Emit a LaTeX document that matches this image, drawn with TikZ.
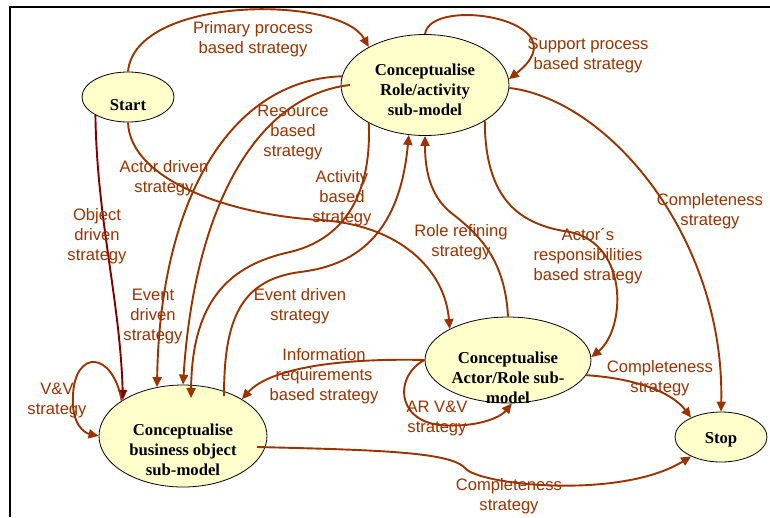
\documentclass[tikz,border=0pt]{standalone}
\usepackage{fontspec}
\setmainfont{Liberation Serif}
\newfontfamily\lblfont{Liberation Sans}
\usetikzlibrary{shapes.geometric,arrows.meta,calc}
\definecolor{edgec}{HTML}{993300}
\definecolor{objc}{HTML}{800000}
\definecolor{fillc}{HTML}{FFFFCC}
\tikzset{
  state/.style={ellipse, draw=black, line width=0.8pt, fill=fillc, inner sep=0pt},
  statetxt/.style={font=\fontsize{16.7}{20}\selectfont\bfseries, align=center, inner sep=0pt, yshift=-2.5pt},
  lbl/.style={font=\lblfont\fontsize{16.6}{20}\selectfont, text=edgec, align=center, inner sep=0pt, yshift=-2pt},
  conn/.style={draw=edgec, line width=1.9pt, -{Triangle[length=10pt,width=9pt]}},
  objconn/.style={draw=objc, line width=1.9pt, -{Triangle[length=10pt,width=9pt]}},
  frameline/.style={draw=black, line width=2.2pt}
}
\begin{document}
\begin{tikzpicture}[x=1pt,y=-1pt]
\useasboundingbox (0,0) rectangle (770,517);
\fill[white] (0,0) rectangle (770,517);
\draw[frameline] (10,517) -- (10,7) -- (770,7);

% states
\node[state, minimum width=92pt, minimum height=50pt] (start) at (128,97) {};
\node[state, minimum width=168pt, minimum height=101pt] (role) at (425,85) {};
\node[state, minimum width=168pt, minimum height=102pt] (bo) at (183,436) {};
\node[state, minimum width=166pt, minimum height=86pt] (ar) at (508,360) {};
\node[state, minimum width=92pt, minimum height=50pt] (stop) at (721,437) {};

% connectors
\draw[conn] (start.90) .. controls (135,-5) and (340,-5) .. (role.146);
\draw[conn] (role.90) .. controls (430,-5) and (585,20) .. (role.4);
\draw[conn] (role.-2) .. controls (610,100) and (725,240) .. (stop.90);
\draw[conn] (role.-31) .. controls (485,200) and (520,225) .. (570,232) .. controls (630,245) and (625,330) .. (ar.2);
\draw[conn] (ar.90) .. controls (505,260) and (480,235) .. (450,212) .. controls (430,195) and (425,170) .. (role.270);
\draw[conn] ($(bo)+(41,-40)$) .. controls (224,320) and (240,280) .. (300,272) .. controls (360,265) and (400,230) .. (role.252);
\draw[conn] (role.214) .. controls (372,200) and (340,240) .. (290,252) .. controls (230,265) and (192,300) .. ($(bo)+(8,-38)$);
\draw[conn] ($(role)+(-75,0)$) .. controls (260,95) and (195,200) .. (bo.90);
\draw[conn] (role.174) .. controls (230,80) and (160,200) .. (bo.118);
\draw[conn] (start.270) .. controls (130,180) and (230,215) .. (320,220) .. controls (400,225) and (445,270) .. (ar.152);
\draw[objconn] (start.209) .. controls (97,220) and (120,300) .. (bo.149);
\draw[conn] (bo.150) .. controls (112,350) and (75,350) .. (73,395) .. controls (71,425) and (85,433) .. (bo.180);
\draw[conn] (ar.180) .. controls (340,358) and (270,368) .. (bo.32);
\draw[conn] (ar.180) .. controls (395,375) and (395,420) .. (440,425) .. controls (475,428) and (500,418) .. (ar.275);
\draw[conn] (ar.-11) .. controls (630,378) and (670,390) .. (stop.147);
\draw[conn] ($(bo)+(74,11)$) .. controls (380,450) and (450,452) .. (465,468) .. controls (478,485) and (620,500) .. (stop.213);

% state texts
\node[statetxt] (starttxt) at (128,103) {Start};
\node[statetxt] (roletxt) at (425,87) {Conceptualise\\Role/activity\\sub-model};
\node[statetxt] (botxt) at (183,447) {Conceptualise\\business object\\sub-model};
\node[statetxt] (artxt) at (508,375) {Conceptualise\\Actor/Role sub-\\model};
\node[statetxt] (stoptxt) at (721,437) {Stop};

% labels
\node[lbl] (l1) at (253,37) {Primary process\\based strategy};
\node[lbl] (l2) at (588,53) {Support process\\based strategy};
\node[lbl] (l3) at (710,209) {Completeness\\strategy};
\node[lbl] (l4) at (588,254) {Actor´s\\responsibilities\\based strategy};
\node[lbl] (l5) at (461,240) {Role refining\\strategy};
\node[lbl] (l6) at (300,304) {Event driven\\strategy};
\node[lbl] (l7) at (342,196) {Activity\\based\\strategy};
\node[lbl] (l8) at (293,131) {Resource\\based\\strategy};
\node[lbl] (l9) at (153,315) {Event\\driven\\strategy};
\node[lbl] (l10) at (164,176) {Actor driven\\strategy};
\node[lbl] (l11) at (97,234) {Object\\driven\\strategy};
\node[lbl] (l12) at (57,398) {V\&V\\strategy};
\node[lbl] (l13) at (324,374) {Information\\requirements\\based strategy};
\node[lbl] (l14) at (437,416) {AR V\&V\\strategy};
\node[lbl] (l15) at (660,376) {Completeness\\strategy};
\node[lbl] (l16) at (509,494) {Completeness\\strategy};
\end{tikzpicture}
\end{document}
